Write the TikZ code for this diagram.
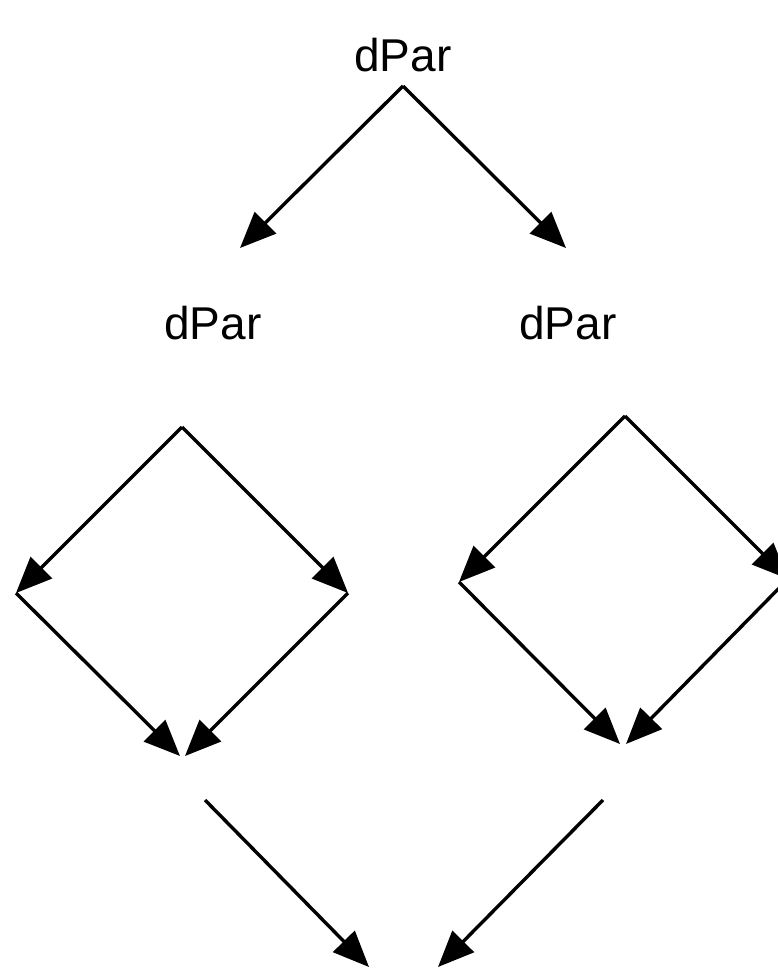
\documentclass[tikz,border=0pt]{standalone}
\usepackage{fontspec}
\setmainfont{Liberation Sans}
\usetikzlibrary{arrows.meta}
\begin{document}
\begin{tikzpicture}[x=1pt,y=-1pt,
  conn/.style={line width=3.4pt, -{Triangle[length=36pt,width=30pt]}},
  lbl/.style={font=\fontsize{46}{50}\selectfont, inner sep=0pt}]
\useasboundingbox (0,0) rectangle (778,969);
\clip (0,0) rectangle (778,969);
% labels
\node[lbl] (t0) at (403,55) {dPar};
\node[lbl] (t1) at (213,323) {dPar};
\node[lbl] (t2) at (568,323) {dPar};
% top fork
\coordinate (a0) at (403,86);
\coordinate (a1) at (240,248);
\coordinate (a2) at (566,248);
\draw[conn] (a0) -- (a1);
\draw[conn] (a0) -- (a2);
% left diamond
\coordinate (lt) at (182,427);
\coordinate (ll) at (16,593);
\coordinate (lr) at (348,593);
\coordinate (lb1) at (180,756);
\coordinate (lb2) at (185,756);
\draw[conn] (lt) -- (ll);
\draw[conn] (lt) -- (lr);
\draw[conn] (ll) -- (lb1);
\draw[conn] (lr) -- (lb2);
% right diamond
\coordinate (rt) at (625,416);
\coordinate (rl) at (459,582);
\coordinate (rr) at (788,579);
\coordinate (rb1) at (620,744);
\coordinate (rb2) at (626,744);
\draw[conn] (rt) -- (rl);
\draw[conn] (rt) -- (rr);
\draw[conn] (rl) -- (rb1);
\draw[conn] (rr) -- (rb2);
% join
\coordinate (j1) at (205,800);
\coordinate (j2) at (603,800);
\coordinate (e1) at (369,967);
\coordinate (e2) at (438,967);
\draw[conn] (j1) -- (e1);
\draw[conn] (j2) -- (e2);
\end{tikzpicture}
\end{document}
